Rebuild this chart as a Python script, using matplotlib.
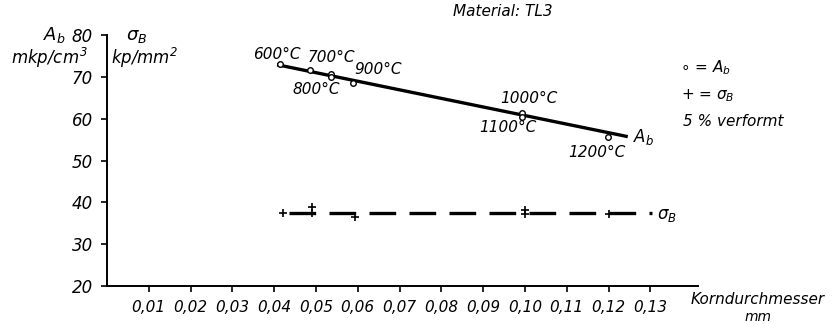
import numpy as np
import matplotlib.pyplot as plt

# A_b measurements (open circles) with annealing temperature
ab_x = [0.0414, 0.0486, 0.0536, 0.0536, 0.0589, 0.0993, 0.0993, 0.1199]
ab_y = [73.1, 71.7, 70.7, 70.0, 68.6, 61.4, 60.5, 55.5]
# fitted A_b line
ab_line_x = [0.0407, 0.1246]
ab_line_y = [72.9, 55.7]

# sigma_B measurements (plus marks)
sb_x = [0.0420, 0.0490, 0.0490, 0.0593, 0.1000, 0.1000, 0.1200]
sb_y = [37.4, 38.8, 37.5, 36.4, 38.2, 37.2, 37.1]
sb_line_x = [0.0435, 0.1305]
sb_line_y = [37.4, 37.4]

# temperature labels: (point x, point y, text, offset px)
temp_x = [0.0414, 0.0486, 0.0536, 0.0589, 0.0993, 0.0993, 0.1199]
temp_y = [73.1, 71.7, 70.0, 68.6, 61.4, 60.5, 55.5]
temp_lbl = ['600°C', '700°C', '800°C', '900°C', '1000°C', '1100°C', '1200°C']
temp_off = [(-3, 9), (21, 12), (-15, -13), (25, 13), (7, 14), (-14, -11), (-11, -15)]

xticks = np.arange(1, 14) / 100
yticks = [20, 30, 40, 50, 60, 70, 80]

plt.rcParams['mathtext.fontset'] = 'dejavusans'
plt.rcParams['font.style'] = 'italic'
plt.rcParams['mathtext.default'] = 'it'

W, H = 836, 324
fig = plt.figure(figsize=(W / 100, H / 100), dpi=100)
ax = fig.add_axes([107 / W, 1 - 286 / H, (698 - 107) / W, (286 - 35) / H])

ax.plot(ab_line_x, ab_line_y, color='black', lw=2.4, solid_capstyle='butt')
ax.plot(ab_x, ab_y, 'o', ms=4, mfc='white', mec='black', mew=1.0)
ax.plot(sb_line_x, sb_line_y, color='black', lw=2.4, dashes=(8, 4))
ax.plot(sb_x, sb_y, '+', ms=6, color='black', mew=1.2)

for x, y, t, (dx, dy) in zip(temp_x, temp_y, temp_lbl, temp_off):
    ax.annotate(t, (x, y), xytext=(dx, dy), textcoords='offset pixels',
                ha='center', va='center', fontsize=11, style='italic')

ax.annotate(r'$A_b$', (ab_line_x[1], ab_line_y[1]), xytext=(16, 0),
            textcoords='offset pixels', ha='center', va='center', fontsize=12)
ax.annotate(r'$\sigma_B$', (sb_line_x[1], sb_line_y[1]), xytext=(14, -2),
            textcoords='offset pixels', ha='center', va='center', fontsize=12)

ax.set_xlim(0, 0.1414)
ax.set_ylim(20, 80)
ax.set_xticks(xticks)
ax.set_xticklabels([('%.2f' % v).replace('.', ',') for v in xticks])
ax.set_yticks(yticks)
ax.tick_params(axis='both', direction='out', length=4, width=1.2, labelsize=11)
ax.tick_params(axis='x', pad=6)
ax.tick_params(axis='y', pad=6, labelsize=12)
for s in ['top', 'right']:
    ax.spines[s].set_visible(False)
for s in ['left', 'bottom']:
    ax.spines[s].set_linewidth(1.4)
for lbl in ax.get_xticklabels() + ax.get_yticklabels():
    lbl.set_style('italic')

def ftext(px, py, s, **kw):
    fig.text(px / W, 1 - py / H, s, style='italic', **kw)

ftext(54, 35, r'$A_b$', fontsize=13, ha='center', va='center')
ftext(49, 58, r'$mkp/cm^3$', fontsize=12, ha='center', va='center')
ftext(137, 36, r'$\sigma_B$', fontsize=13, ha='center', va='center')
ftext(145, 58, r'$kp/mm^2$', fontsize=12, ha='center', va='center')
ftext(503, 12, 'Material: TL3', fontsize=11, ha='center', va='center')
ftext(680, 68, r'$\circ$ = $A_b$', fontsize=11, ha='left', va='center')
ftext(681, 96, r'+ = $\sigma_B$', fontsize=11, ha='left', va='center')
ftext(683, 122, '5 % verformt', fontsize=11, ha='left', va='center')
ftext(758, 300, 'Korndurchmesser', fontsize=11, ha='center', va='center')
ftext(758, 317, 'mm', fontsize=10, ha='center', va='center')

fig.savefig('out.png', dpi=100)
